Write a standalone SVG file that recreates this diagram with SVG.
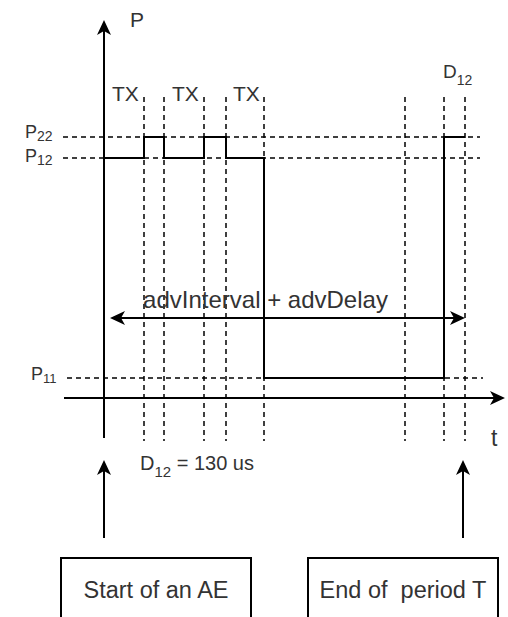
<svg xmlns="http://www.w3.org/2000/svg" width="508" height="617" viewBox="0 0 508 617">
<style>
.t{font-family:"Liberation Sans",Arial,sans-serif;fill:#333}
.ax{stroke:#000;stroke-width:2;fill:none}
.dash{stroke:#000;stroke-width:1.5;stroke-dasharray:5 4;fill:none}
.box{stroke:#000;stroke-width:2;fill:#fff}
</style>
<defs>
<marker id="ah" viewBox="0 0 15 14" refX="4" refY="7" markerWidth="15" markerHeight="14" markerUnits="userSpaceOnUse" orient="auto-start-reverse">
<path d="M0,0 L15,7 L0,14 L4,7 Z" fill="#000"/>
</marker>
</defs>
<rect width="508" height="617" fill="#fff"/>
<g id="grid">
<path class="dash" d="M144,97V441M164,97V441M204,97V441M226,97V441M264,97V441M405,97V441M444,97V441M465,97V441"/>
<path class="dash" d="M63,137H480M63,158H480M67,378H483"/>
</g>
<g id="connectors">
<line class="ax" x1="104" y1="438" x2="104" y2="31" marker-end="url(#ah)"/>
<line class="ax" x1="64" y1="398" x2="494" y2="398" marker-end="url(#ah)"/>
<line class="ax" x1="121" y1="318" x2="454" y2="318" marker-start="url(#ah)" marker-end="url(#ah)"/>
<line class="ax" x1="104" y1="538" x2="104" y2="471" marker-end="url(#ah)"/>
<line class="ax" x1="463" y1="538" x2="463" y2="471" marker-end="url(#ah)"/>
</g>
<g id="signal">
<path class="ax" d="M104,158H144V137H164V158H204V137H226V158H264V378H444V137H465"/>
</g>
<g id="labels">
<text class="t" x="130" y="27" font-size="21">P</text>
<text class="t" x="491" y="446" font-size="23">t</text>
<text class="t" x="112" y="101" font-size="21">TX</text>
<text class="t" x="172" y="101" font-size="21">TX</text>
<text class="t" x="233" y="101" font-size="21">TX</text>
<text class="t" x="25" y="138" font-size="18">P<tspan font-size="14" dy="3">22</tspan></text>
<text class="t" x="25" y="162" font-size="18">P<tspan font-size="14" dy="3">12</tspan></text>
<text class="t" x="31" y="380" font-size="18">P<tspan font-size="13" dy="3">11</tspan></text>
<text class="t" x="443" y="78" font-size="19">D<tspan font-size="14" dy="7">12</tspan></text>
<text class="t" x="140" y="470" font-size="20">D<tspan font-size="15" dy="7">12</tspan><tspan dy="-7"> = 130 us</tspan></text>
<text class="t" x="265.5" y="308" font-size="24" text-anchor="middle">advInterval + advDelay</text>
</g>
<g id="start">
<rect class="box" x="61" y="558" width="190" height="80"/>
<text class="t" x="156" y="598" font-size="23.5" text-anchor="middle">Start of an AE</text>
</g>
<g id="end">
<rect class="box" x="308" y="558" width="190" height="80"/>
<text class="t" x="403" y="598" font-size="23.5" text-anchor="middle" xml:space="preserve">End of  period T</text>
</g>
</svg>
